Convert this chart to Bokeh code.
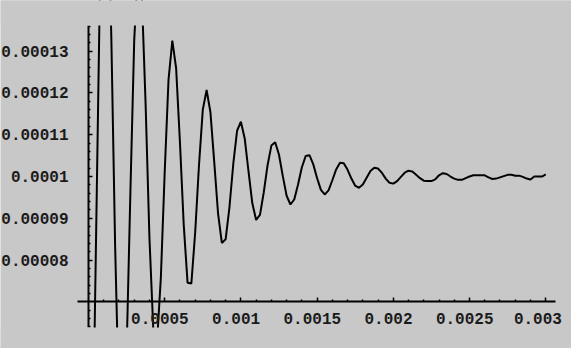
from bokeh.plotting import figure
from bokeh.models import FixedTicker, CustomJSTickFormatter, Range1d, BoxAnnotation
from bokeh.embed import file_html
from bokeh.resources import INLINE

# time samples (s) and response values
t_vals = [
    0e-6, 25e-6, 50e-6, 75e-6, 100e-6, 125e-6, 150e-6, 175e-6, 200e-6, 225e-6,
    250e-6, 275e-6, 300e-6, 325e-6, 350e-6, 375e-6, 400e-6, 425e-6, 450e-6, 475e-6,
    500e-6, 525e-6, 550e-6, 575e-6, 600e-6, 625e-6, 650e-6, 675e-6, 700e-6, 725e-6,
    750e-6, 775e-6, 800e-6, 825e-6, 850e-6, 875e-6, 900e-6, 925e-6, 950e-6, 975e-6,
    1000e-6, 1025e-6, 1050e-6, 1075e-6, 1100e-6, 1125e-6, 1150e-6, 1175e-6, 1200e-6, 1225e-6,
    1250e-6, 1275e-6, 1300e-6, 1325e-6, 1350e-6, 1375e-6, 1400e-6, 1425e-6, 1450e-6, 1475e-6,
    1500e-6, 1525e-6, 1550e-6, 1575e-6, 1600e-6, 1625e-6, 1650e-6, 1675e-6, 1700e-6, 1725e-6,
    1750e-6, 1775e-6, 1800e-6, 1825e-6, 1850e-6, 1875e-6, 1900e-6, 1925e-6, 1950e-6, 1975e-6,
    2000e-6, 2025e-6, 2050e-6, 2075e-6, 2100e-6, 2125e-6, 2150e-6, 2175e-6, 2200e-6, 2225e-6,
    2250e-6, 2275e-6, 2300e-6, 2325e-6, 2350e-6, 2375e-6, 2400e-6, 2425e-6, 2450e-6, 2475e-6,
    2500e-6, 2525e-6, 2550e-6, 2575e-6, 2600e-6, 2625e-6, 2650e-6, 2675e-6, 2700e-6, 2725e-6,
    2750e-6, 2775e-6, 2800e-6, 2825e-6, 2850e-6, 2875e-6, 2900e-6, 2925e-6, 2950e-6, 2975e-6,
    3000e-6,
]
y_vals = [
    0.0e-6, 27.8e-6, 86.1e-6, 145.1e-6, 177.8e-6, 171.4e-6, 132.9e-6, 83.0e-6, 45.7e-6, 36.9e-6,
    58.0e-6, 96.4e-6, 132.6e-6, 150.4e-6, 143.3e-6, 117.0e-6, 85.3e-6, 63.5e-6, 60.5e-6, 76.0e-6,
    101.0e-6, 123.1e-6, 132.5e-6, 125.9e-6, 108.2e-6, 88.4e-6, 74.6e-6, 74.4e-6, 86.6e-6, 102.7e-6,
    116.0e-6, 120.7e-6, 115.4e-6, 103.5e-6, 91.2e-6, 84.1e-6, 85.0e-6, 92.7e-6, 103.0e-6, 111.0e-6,
    113.1e-6, 109.1e-6, 101.2e-6, 93.6e-6, 89.6e-6, 90.8e-6, 96.2e-6, 102.7e-6, 107.4e-6, 108.2e-6,
    105.2e-6, 100.1e-6, 95.4e-6, 93.3e-6, 94.5e-6, 98.1e-6, 102.2e-6, 104.9e-6, 105.1e-6, 102.9e-6,
    99.6e-6, 96.8e-6, 95.7e-6, 96.7e-6, 99.1e-6, 101.7e-6, 103.3e-6, 103.2e-6, 101.6e-6, 99.5e-6,
    97.8e-6, 97.3e-6, 98.1e-6, 99.7e-6, 101.3e-6, 102.1e-6, 101.9e-6, 100.9e-6, 99.5e-6, 98.5e-6,
    98.3e-6, 98.9e-6, 99.9e-6, 100.9e-6, 101.4e-6, 101.2e-6, 100.4e-6, 99.6e-6, 99.0e-6, 98.9e-6,
    98.9e-6, 99.3e-6, 100.3e-6, 100.8e-6, 100.6e-6, 100.0e-6, 99.5e-6, 99.2e-6, 99.2e-6, 99.6e-6,
    100.0e-6, 100.3e-6, 100.3e-6, 100.3e-6, 100.3e-6, 99.8e-6, 99.4e-6, 99.5e-6, 99.8e-6, 100.1e-6,
    100.4e-6, 100.4e-6, 100.2e-6, 100.2e-6, 99.9e-6, 99.5e-6, 99.3e-6, 100.0e-6, 100.0e-6, 100.0e-6,
    100.5e-6,
]

x_ticks = [0.0005, 0.001, 0.0015, 0.002, 0.0025, 0.003]
x_labels = ["0.0005", "0.001", "0.0015", "0.002", "0.0025", "0.003"]
y_ticks = [0.00008, 0.00009, 0.0001, 0.00011, 0.00012, 0.00013]
y_labels = ["0.00008", "0.00009", "0.0001", "0.00011", "0.00012", "0.00013"]
x_minor = [round(k * 1e-4, 6) for k in range(1, 31) if k % 5 != 0]
y_minor = [round(k * 2e-6, 9) for k in range(32, 69) if k % 5 != 0]

x_axis_at = 0.00007   # y value where the horizontal axis sits
y_axis_at = 0.0       # x value where the vertical axis sits
# extent of the plotted region (axes and curve clipping)
x_lo, x_hi = -0.0000722, 0.0030643
y_lo, y_hi = 0.00006388, 0.00013612
# full visible window
x_view = (-0.0005774, 0.0031693)
y_view = (0.00005885, 0.00014211)

BG = "#c8c8c8"
FONT = "Liberation Mono"
NBSP = "\u00a0"

p = figure(width=571, height=348, output_backend="svg", toolbar_location=None,
           x_range=Range1d(*x_view), y_range=Range1d(*y_view),
           min_border_left=0, min_border_right=0, min_border_top=0, min_border_bottom=0)
p.background_fill_color = BG
p.border_fill_color = BG
p.outline_line_color = None
p.xgrid.visible = False
p.ygrid.visible = False

p.line(t_vals, y_vals, line_color="black", line_width=2)

# clip the curve to the plotted region (bands above and below it)
span = y_view[1] - y_view[0]
p.add_layout(BoxAnnotation(bottom=y_hi, top=y_view[1] + span, fill_color=BG, fill_alpha=1, line_color=None))
p.add_layout(BoxAnnotation(top=y_lo, bottom=y_view[0] - span, fill_color=BG, fill_alpha=1, line_color=None))

fmt_code = "const i = tvals.indexOf(tick); return i >= 0 ? tlabels[i] : '';"

xa = p.xaxis[0]
xa.fixed_location = x_axis_at
xa.bounds = (x_lo, x_hi)
xa.ticker = FixedTicker(ticks=x_ticks, minor_ticks=x_minor)
xa.formatter = CustomJSTickFormatter(
    args=dict(tvals=x_ticks, tlabels=[s + NBSP for s in x_labels]), code=fmt_code)

ya = p.yaxis[0]
ya.fixed_location = y_axis_at
ya.bounds = (y_lo, y_hi)
ya.ticker = FixedTicker(ticks=y_ticks, minor_ticks=y_minor)
ya.formatter = CustomJSTickFormatter(args=dict(tvals=y_ticks, tlabels=y_labels), code=fmt_code)

for ax in (xa, ya):
    ax.axis_line_width = 2
    ax.axis_line_color = "black"
    ax.major_tick_in = 4
    ax.major_tick_out = 0
    ax.minor_tick_in = 2
    ax.minor_tick_out = 0
    ax.major_tick_line_width = 1.5
    ax.minor_tick_line_width = 1.5
    ax.major_tick_line_color = "black"
    ax.minor_tick_line_color = "black"
    ax.major_label_text_font = FONT
    ax.major_label_text_font_size = "16px"
    ax.major_label_text_color = "#1a1a1a"
    ax.major_label_text_font_style = "bold"

xa.major_label_standoff = 9
ya.major_label_standoff = 20

open("out.html", "w").write(file_html(p, INLINE))
